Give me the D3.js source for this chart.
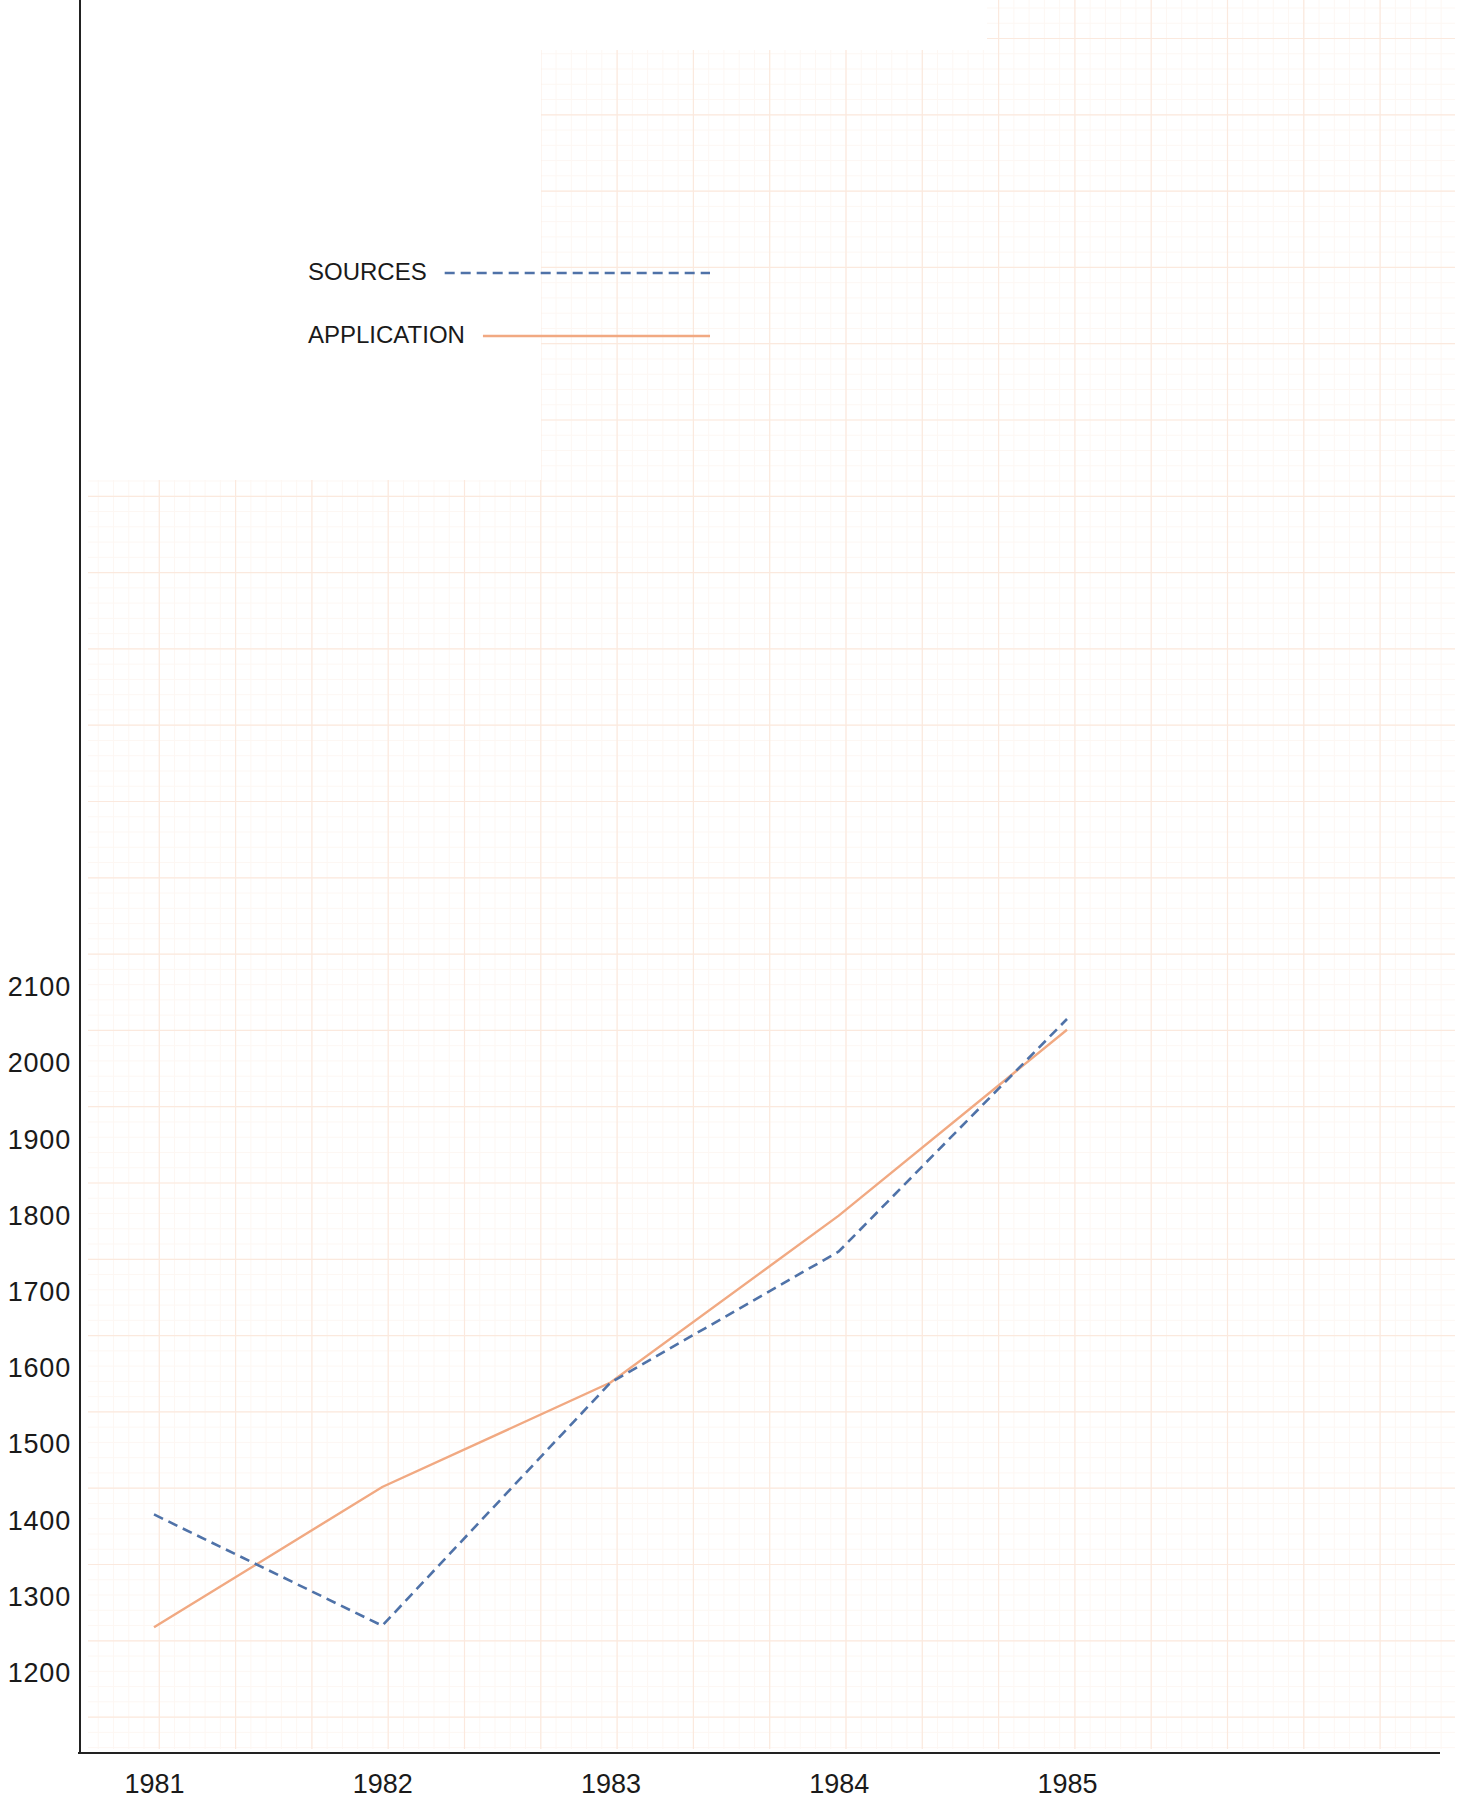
<!DOCTYPE html>
<html>
<head>
<meta charset="utf-8">
<script src="https://cdn.jsdelivr.net/npm/d3@7"></script>
<style>
  html, body { margin: 0; padding: 0; background: #ffffff; }
  svg { display: block; }
</style>
</head>
<body>
<svg id="chart" width="1459" height="1798"></svg>
<script>
// ---- data ----
const years = [1981, 1982, 1983, 1984, 1985];
const sources = [1408, 1262, 1581, 1753, 2058];
const application = [1260, 1444, 1581, 1800, 2044];
const yTicks = [1200, 1300, 1400, 1500, 1600, 1700, 1800, 1900, 2000, 2100];
const seriesNames = ["SOURCES", "APPLICATION"];

// ---- layout ----
const svg = d3.select("#chart");
const axisX0 = 80, axisBottom = 1753;

const x = d3.scaleLinear().domain([1981, 1985]).range([154, 1067]);
const y = d3.scaleLinear().domain([1095, 3395]).range([axisBottom, 0]);

// ---- graph paper background ----
const grid = svg.append("g");
const gx0 = 88, gx1 = 1455, gy0 = 0, gy1 = 1749;
const major = 76.3;
const minorLines = [], majorV = [], majorH = [];
for (let v = 83; v <= gx1; v += major / 5) {
  if (v >= gx0) minorLines.push({x1: v, y1: gy0, x2: v, y2: gy1});
}
for (let h = 38.5 - major; h <= gy1; h += major / 5) {
  if (h >= gy0) minorLines.push({x1: gx0, y1: h, x2: gx1, y2: h});
}
for (let v = 83 + major; v <= gx1; v += major) majorV.push(v);
for (let h = 38.5; h <= gy1; h += major) majorH.push(h);
grid.selectAll("line.minor").data(minorLines).join("line")
  .attr("class", "minor")
  .attr("x1", d => d.x1).attr("y1", d => d.y1).attr("x2", d => d.x2).attr("y2", d => d.y2)
  .attr("stroke", "#fdf7f3").attr("stroke-width", 1);
grid.selectAll("line.mv").data(majorV).join("line")
  .attr("x1", d => d).attr("x2", d => d).attr("y1", gy0).attr("y2", gy1)
  .attr("stroke", "#fbe9de").attr("stroke-width", 1.2);
grid.selectAll("line.mh").data(majorH).join("line")
  .attr("y1", d => d).attr("y2", d => d).attr("x1", gx0).attr("x2", gx1)
  .attr("stroke", "#fbe9de").attr("stroke-width", 1.2);
// blanked areas of the sheet
grid.append("rect").attr("x", 81).attr("y", 0).attr("width", 460).attr("height", 480).attr("fill", "#fff");
grid.append("rect").attr("x", 320).attr("y", 0).attr("width", 667).attr("height", 50).attr("fill", "#fff");

// ---- axes ----
svg.append("line")
  .attr("x1", axisX0).attr("x2", axisX0).attr("y1", 0).attr("y2", axisBottom)
  .attr("stroke", "#222").attr("stroke-width", 2);
svg.append("line")
  .attr("x1", 78).attr("x2", 1440).attr("y1", axisBottom).attr("y2", axisBottom)
  .attr("stroke", "#222").attr("stroke-width", 2);

const yAxis = svg.append("g")
  .attr("transform", `translate(${axisX0},0)`)
  .call(d3.axisLeft(y).tickValues(yTicks).tickSize(0).tickPadding(9).tickFormat(d3.format("d")));
yAxis.select(".domain").remove();
yAxis.selectAll("text")
  .attr("font-family", "Liberation Sans, Arial, sans-serif")
  .attr("font-size", 27).attr("letter-spacing", 0.8).attr("fill", "#1a1a1a");

const xAxis = svg.append("g")
  .attr("transform", `translate(0,${axisBottom})`)
  .call(d3.axisBottom(x).tickValues(years).tickSize(0).tickPadding(21).tickFormat(d3.format("d")));
xAxis.select(".domain").remove();
xAxis.selectAll("text")
  .attr("font-family", "Liberation Sans, Arial, sans-serif")
  .attr("font-size", 27).attr("fill", "#1a1a1a");

// ---- lines ----
const line = d3.line().x((d, i) => x(years[i])).y(d => y(d));
const styles = {
  SOURCES: {color: "#4f72a8", width: 2.6, dash: "10,6"},
  APPLICATION: {color: "#f1a982", width: 2.4, dash: null}
};
svg.append("path").datum(application)
  .attr("d", line).attr("fill", "none")
  .attr("stroke", styles.APPLICATION.color).attr("stroke-width", styles.APPLICATION.width);
svg.append("path").datum(sources)
  .attr("d", line).attr("fill", "none")
  .attr("stroke", styles.SOURCES.color).attr("stroke-width", styles.SOURCES.width)
  .attr("stroke-dasharray", styles.SOURCES.dash);

// ---- legend ----
const legend = svg.append("g");
const legendBase = [280, 343];
const lineEnd = 710;
seriesNames.forEach((name, i) => {
  const t = legend.append("text")
    .attr("x", 308).attr("y", legendBase[i])
    .attr("font-family", "Liberation Sans, Arial, sans-serif")
    .attr("font-size", 24).attr("fill", "#1a1a1a")
    .text(name);
  const tw = t.node().getComputedTextLength();
  legend.append("line")
    .attr("x1", 308 + tw + 18).attr("x2", lineEnd)
    .attr("y1", legendBase[i] - 7).attr("y2", legendBase[i] - 7)
    .attr("stroke", styles[name].color).attr("stroke-width", styles[name].width)
    .attr("stroke-dasharray", styles[name].dash);
});
</script>
</body>
</html>
